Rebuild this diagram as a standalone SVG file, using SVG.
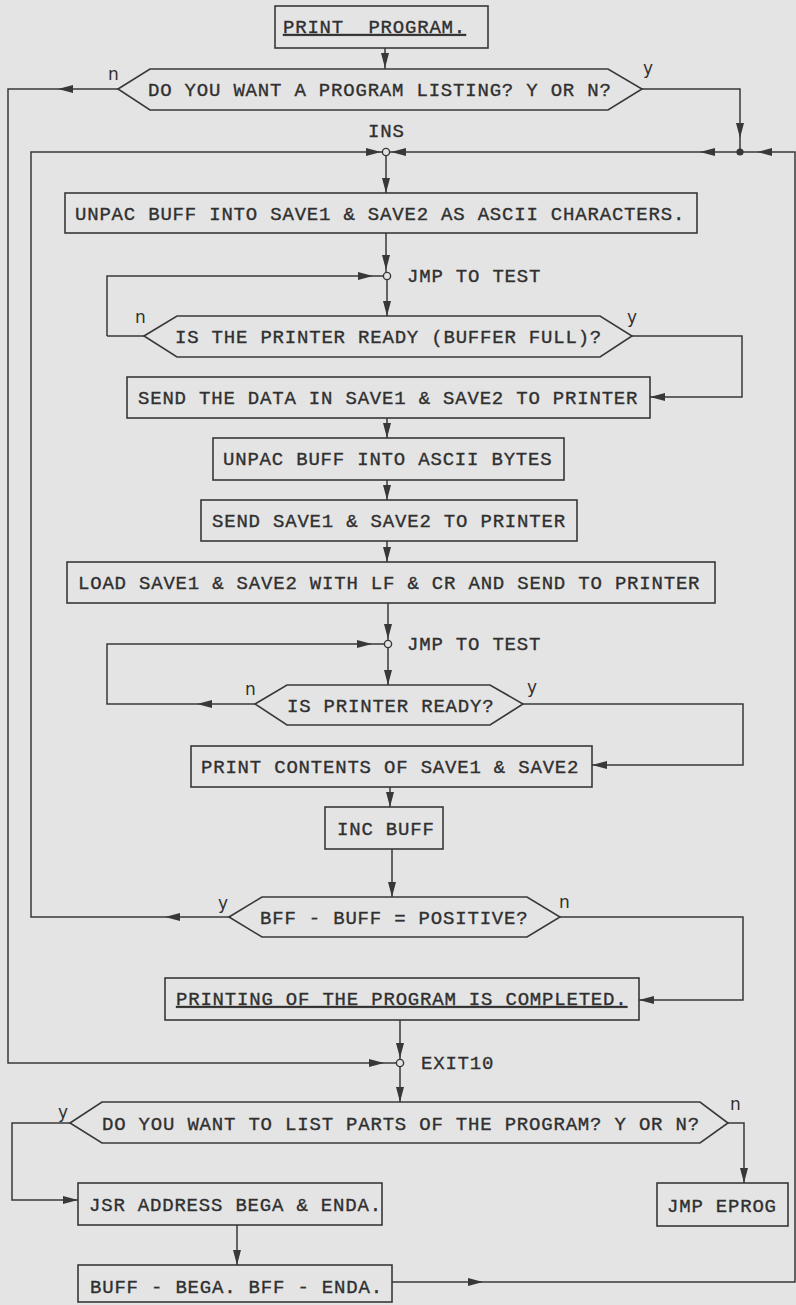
<svg xmlns="http://www.w3.org/2000/svg" xmlns:xlink="http://www.w3.org/1999/xlink" width="796" height="1305" viewBox="0 0 796 1305">
<style>
.bg{fill:#e4e4e4}
.box{fill:none;stroke:#383838;stroke-width:1.6}
.ln{fill:none;stroke:#383838;stroke-width:1.5}
.t{font-family:"Liberation Mono",monospace;font-size:19px;letter-spacing:0.8px;fill:#303030;stroke:#303030;stroke-width:0.35;white-space:pre}
.u{text-decoration:underline}
.lb{font-family:"DejaVu Sans","Liberation Sans",sans-serif;font-size:17px;fill:#303030}
.jc{fill:#e4e4e4;stroke:#383838;stroke-width:1.4}
.dot{fill:#383838}
.ah{fill:#383838}
</style>
<defs>
<path id="ar" d="M0,0 L-15,-4 L-15,4 Z"/>
</defs>
<rect class="bg" x="0" y="0" width="796" height="1305"/>

<g id="connectors">
<path class="ln" d="M385,48 V69"/>
<path class="ln" d="M118,89 H8 V1063 H397"/>
<path class="ln" d="M642,89 H740 V152"/>
<path class="ln" d="M392,1282 H795 V152 H390"/>
<path class="ln" d="M229,917 H31 V152 H382"/>
<path class="ln" d="M386,156 V193"/>
<path class="ln" d="M386,233 V272"/>
<path class="ln" d="M107,336 H144 M107,336 V276 H383"/>
<path class="ln" d="M387,280 V316"/>
<path class="ln" d="M632,336 H742 V397 H650"/>
<path class="ln" d="M387,418 V438 M387,480 V500 M387,541 V562 M388,603 V640"/>
<path class="ln" d="M255,704 H107 V644 H384"/>
<path class="ln" d="M388,648 V685"/>
<path class="ln" d="M523,704 H743 V765 H592"/>
<path class="ln" d="M390,787 V807 M392,849 V897"/>
<path class="ln" d="M560,917 H743 V1000 H639"/>
<path class="ln" d="M400,1020 V1059 M400,1067 V1102"/>
<path class="ln" d="M70,1123 H12 V1200 H78"/>
<path class="ln" d="M728,1123 H744 V1183"/>
<path class="ln" d="M237,1225 V1265"/>
<!-- arrowheads -->
<use class="ah" xlink:href="#ar" transform="translate(385,68) rotate(90)"/>
<use class="ah" xlink:href="#ar" transform="translate(58,89) rotate(180)"/>
<use class="ah" xlink:href="#ar" transform="translate(740,138) rotate(90)"/>
<use class="ah" xlink:href="#ar" transform="translate(757,152) rotate(180)"/>
<use class="ah" xlink:href="#ar" transform="translate(700,152) rotate(180)"/>
<use class="ah" xlink:href="#ar" transform="translate(391,152) rotate(180)"/>
<use class="ah" xlink:href="#ar" transform="translate(381,152)"/>
<use class="ah" xlink:href="#ar" transform="translate(386,193) rotate(90)"/>
<use class="ah" xlink:href="#ar" transform="translate(386,270) rotate(90)"/>
<use class="ah" xlink:href="#ar" transform="translate(373,276)"/>
<use class="ah" xlink:href="#ar" transform="translate(387,316) rotate(90)"/>
<use class="ah" xlink:href="#ar" transform="translate(650,397) rotate(180)"/>
<use class="ah" xlink:href="#ar" transform="translate(387,438) rotate(90)"/>
<use class="ah" xlink:href="#ar" transform="translate(387,500) rotate(90)"/>
<use class="ah" xlink:href="#ar" transform="translate(387,562) rotate(90)"/>
<use class="ah" xlink:href="#ar" transform="translate(388,639) rotate(90)"/>
<use class="ah" xlink:href="#ar" transform="translate(372,644)"/>
<use class="ah" xlink:href="#ar" transform="translate(388,685) rotate(90)"/>
<use class="ah" xlink:href="#ar" transform="translate(197,704) rotate(180)"/>
<use class="ah" xlink:href="#ar" transform="translate(592,765) rotate(180)"/>
<use class="ah" xlink:href="#ar" transform="translate(390,807) rotate(90)"/>
<use class="ah" xlink:href="#ar" transform="translate(392,897) rotate(90)"/>
<use class="ah" xlink:href="#ar" transform="translate(165,917) rotate(180)"/>
<use class="ah" xlink:href="#ar" transform="translate(639,1000) rotate(180)"/>
<use class="ah" xlink:href="#ar" transform="translate(400,1058) rotate(90)"/>
<use class="ah" xlink:href="#ar" transform="translate(384,1063)"/>
<use class="ah" xlink:href="#ar" transform="translate(400,1102) rotate(90)"/>
<use class="ah" xlink:href="#ar" transform="translate(78,1200)"/>
<use class="ah" xlink:href="#ar" transform="translate(744,1183) rotate(90)"/>
<use class="ah" xlink:href="#ar" transform="translate(237,1265) rotate(90)"/>
<use class="ah" xlink:href="#ar" transform="translate(483,1282)"/>
<!-- junctions -->
<circle class="jc" cx="386" cy="152" r="3.6"/>
<circle class="dot" cx="740" cy="152" r="3.6"/>
<circle class="jc" cx="387" cy="276" r="3.6"/>
<circle class="jc" cx="388" cy="644" r="3.6"/>
<circle class="jc" cx="400" cy="1063" r="3.6"/>
</g>

<g id="n_print"><rect class="box" x="275" y="6" width="213" height="42"/><text class="t u" x="283" y="33">PRINT  PROGRAM.</text></g>
<g id="d_listing"><polygon class="box" points="118,89 150,69 608,69 642,89 608,110 150,110"/><text class="t" x="148" y="96">DO YOU WANT A PROGRAM LISTING? Y OR N?</text>
<text class="lb" x="108" y="80">n</text><text class="lb" x="643" y="74">y</text></g>
<g id="j_ins"><text class="t" x="368" y="137">INS</text></g>
<g id="n_unpac1"><rect class="box" x="65" y="193" width="632" height="40"/><text class="t" x="75" y="220">UNPAC BUFF INTO SAVE1 &amp; SAVE2 AS ASCII CHARACTERS.</text></g>
<g id="j_test1"><text class="t" x="407" y="282">JMP TO TEST</text></g>
<g id="d_ready1"><polygon class="box" points="144,336 177,316 600,316 632,336 600,357 177,357"/><text class="t" x="175" y="343">IS THE PRINTER READY (BUFFER FULL)?</text>
<text class="lb" x="135" y="323">n</text><text class="lb" x="627" y="323">y</text></g>
<g id="n_send1"><rect class="box" x="127" y="377" width="523" height="41"/><text class="t" x="138" y="404">SEND THE DATA IN SAVE1 &amp; SAVE2 TO PRINTER</text></g>
<g id="n_unpac2"><rect class="box" x="213" y="438" width="351" height="42"/><text class="t" x="223" y="465">UNPAC BUFF INTO ASCII BYTES</text></g>
<g id="n_send2"><rect class="box" x="201" y="500" width="376" height="41"/><text class="t" x="212" y="527">SEND SAVE1 &amp; SAVE2 TO PRINTER</text></g>
<g id="n_load"><rect class="box" x="67" y="562" width="648" height="41"/><text class="t" x="78" y="589">LOAD SAVE1 &amp; SAVE2 WITH LF &amp; CR AND SEND TO PRINTER</text></g>
<g id="j_test2"><text class="t" x="407" y="650">JMP TO TEST</text></g>
<g id="d_ready2"><polygon class="box" points="255,704 287,685 490,685 523,704 490,725 287,725"/><text class="t" x="287" y="712">IS PRINTER READY?</text>
<text class="lb" x="245" y="695">n</text><text class="lb" x="527" y="693">y</text></g>
<g id="n_printc"><rect class="box" x="191" y="746" width="401" height="41"/><text class="t" x="201" y="773">PRINT CONTENTS OF SAVE1 &amp; SAVE2</text></g>
<g id="n_inc"><rect class="box" x="325" y="807" width="118" height="42"/><text class="t" x="337" y="835">INC BUFF</text></g>
<g id="d_bff"><polygon class="box" points="229,917 262,897 527,897 560,917 527,937 262,937"/><text class="t" x="260" y="924">BFF - BUFF = POSITIVE?</text>
<text class="lb" x="218" y="909">y</text><text class="lb" x="559" y="908">n</text></g>
<g id="n_done"><rect class="box" x="165" y="978" width="474" height="42"/><text class="t u" x="176" y="1005">PRINTING OF THE PROGRAM IS COMPLETED.</text></g>
<g id="j_exit10"><text class="t" x="421" y="1069">EXIT10</text></g>
<g id="d_parts"><polygon class="box" points="70,1123 102,1102 700,1102 728,1123 700,1143 102,1143"/><text class="t" x="102" y="1130">DO YOU WANT TO LIST PARTS OF THE PROGRAM? Y OR N?</text>
<text class="lb" x="58" y="1118">y</text><text class="lb" x="730" y="1110">n</text></g>
<g id="n_jsr"><rect class="box" x="78" y="1183" width="304" height="42"/><text class="t" x="89" y="1211">JSR ADDRESS BEGA &amp; ENDA.</text></g>
<g id="n_eprog"><rect class="box" x="657" y="1183" width="131" height="43"/><text class="t" x="667" y="1212">JMP EPROG</text></g>
<g id="n_buff"><rect class="box" x="78" y="1265" width="314" height="37"/><text class="t" x="90" y="1293">BUFF - BEGA. BFF - ENDA.</text></g>
</svg>
